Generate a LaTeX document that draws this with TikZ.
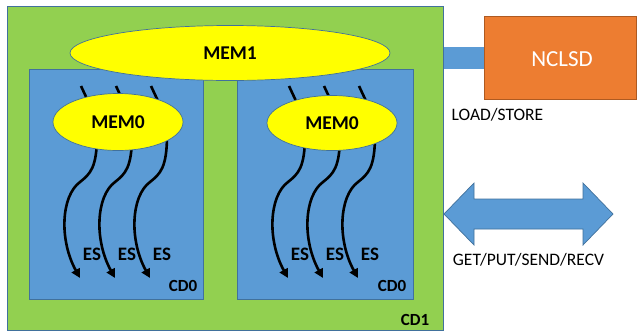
\documentclass[tikz,border=0pt]{standalone}
\usepackage{fontspec}
\setmainfont{Carlito}
\usetikzlibrary{shapes.geometric,arrows.meta}
\definecolor{cdgreen}{HTML}{92D050}
\definecolor{cdblue}{HTML}{5B9BD5}
\definecolor{outl}{HTML}{41719C}
\definecolor{memyellow}{HTML}{FFFF00}
\definecolor{ncorange}{HTML}{ED7D31}
\definecolor{ncborder}{HTML}{AE5A21}
\tikzset{
  box/.style={draw=outl, line width=0.7pt, inner sep=0pt, anchor=north west},
  memell/.style={ellipse, draw=outl, line width=0.7pt, fill=memyellow, inner sep=0pt,
     font=\fontsize{19.5}{21}\selectfont\bfseries},
  lbl/.style={inner sep=0pt, font=\fontsize{17}{19}\selectfont\bfseries},
  eslbl/.style={inner sep=0pt, font=\fontsize{19}{21}\selectfont\bfseries},
  txt/.style={inner sep=0pt, font=\fontsize{17.5}{19}\selectfont},
  esarrow/.style={line width=2.6pt, -{Triangle[length=9pt,width=9pt]}},
  stub/.style={line width=2.6pt}
}
\begin{document}
\begin{tikzpicture}[x=1pt,y=-1pt]
\useasboundingbox[fill=white] (0,0) rectangle (637,333);
% connector bar
\fill[cdblue] (440,47) rectangle (486,69);
% CD1
\node[box, fill=cdgreen, minimum width=436pt, minimum height=324pt] (cd1) at (7,6) {};
\node[lbl] (cd1lbl) at (415,320) {CD1};
% CD0 boxes
\node[box, fill=cdblue, minimum width=174pt, minimum height=230pt] (cd0l) at (29,69) {};
\node[box, fill=cdblue, minimum width=176pt, minimum height=230pt] (cd0r) at (237,69) {};
\node[lbl] (cd0llbl) at (183,286) {CD0};
\node[lbl] (cd0rlbl) at (392,286) {CD0};
% MEM1
\node[memell, minimum width=320pt, minimum height=55pt] (mem1) at (230,53) {MEM1};
% stubs and ES arrows (drawn below MEM0)
\foreach \dx/\i in {0/1,35/2,70/3,208/4,243/5,278/6}{
  \begin{scope}[xshift=\dx pt]
    \coordinate (st\i) at (81,86);
    \coordinate (sb\i) at (88,101);
    \draw[stub] (st\i) -- (sb\i);
    \coordinate (es\i) at (97,135);
    \coordinate (ee\i) at (80,278);
    \draw[esarrow] (es\i) .. controls (97,168) and (90,174) .. (80,182)
                          .. controls (61,196) and (59,240) .. (ee\i);
  \end{scope}
}
% MEM0s
\node[memell, minimum width=130pt, minimum height=57pt] (mem0l) at (118,122) {MEM0};
\node[memell, minimum width=130pt, minimum height=55pt] (mem0r) at (332,123) {MEM0};
% ES labels
\foreach \x/\i in {92/1,127/2,162/3,300/4,335/5,370/6}{
  \node[eslbl] (esl\i) at (\x,254) {ES};
}
% NCLSD
\node[draw=ncborder, line width=0.7pt, fill=ncorange, inner sep=0pt, anchor=north west,
      minimum width=152pt, minimum height=83pt] (nclsd) at (484,16) {};
\node[inner sep=0pt, text=white, font=\fontsize{23}{25}\selectfont] (nclsdlbl) at (562,59) {NCLSD};
\node[txt] (ls) at (497.5,115) {LOAD/STORE};
% double arrow
\filldraw[fill=cdblue, draw=outl, line width=0.7pt]
  (444,214) -- (474,183) -- (474,199) -- (583,199) -- (583,183) -- (613,214)
  -- (583,245) -- (583,229) -- (474,229) -- (474,245) -- cycle;
\node[txt] (gp) at (528.5,260) {GET/PUT/SEND/RECV};
\end{tikzpicture}
\end{document}
